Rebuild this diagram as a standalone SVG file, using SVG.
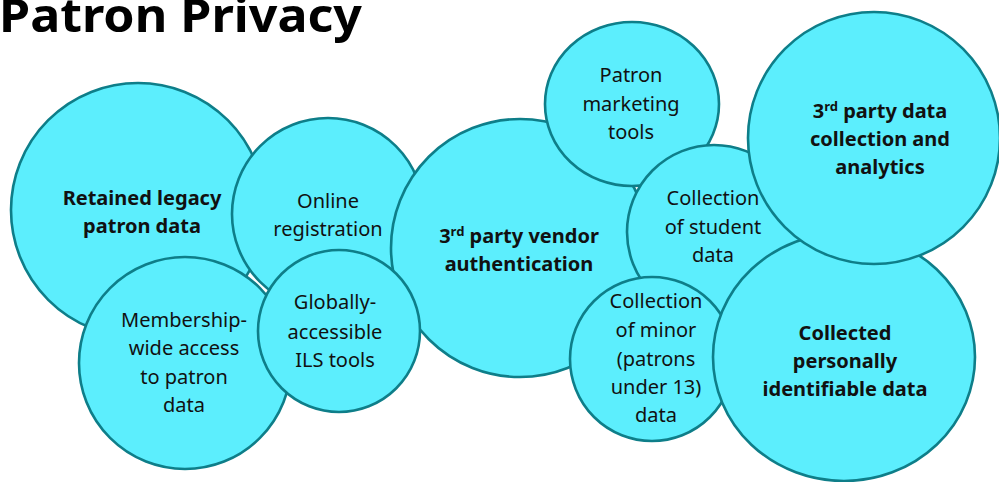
<svg xmlns="http://www.w3.org/2000/svg" width="999" height="482" viewBox="0 0 999 482">
<style>
.c{fill:#5CEEFD;stroke:#0E7E89;stroke-width:2.6}
.t{font-family:"Source Sans Pro","Noto Sans","Liberation Sans",sans-serif;font-size:20px;fill:#111;text-anchor:middle}
.b{font-weight:bold}
.s{font-size:13px}
</style>
<rect width="999" height="482" fill="#fff"/>
<text x="-1" y="32" font-family="Noto Sans, Liberation Sans, sans-serif" font-weight="bold" font-size="46" textLength="363" lengthAdjust="spacingAndGlyphs" fill="#000">Patron Privacy</text>
<g id="connectors"/>
<g id="retained">
<circle class="c" cx="138" cy="210" r="127"/>
<text class="t b" x="142" y="205">Retained legacy</text>
<text class="t b" x="142" y="233">patron data</text>
</g>
<g id="online">
<circle class="c" cx="328" cy="214" r="96"/>
<text class="t" x="328" y="208">Online</text>
<text class="t" x="328" y="236">registration</text>
</g>
<g id="membership">
<circle class="c" cx="185" cy="363" r="106"/>
<text class="t" x="184" y="327">Membership-</text>
<text class="t" x="184" y="355">wide access</text>
<text class="t" x="184" y="384">to patron</text>
<text class="t" x="184" y="412">data</text>
</g>
<g id="vendor">
<circle class="c" cx="520" cy="248" r="129"/>
<text class="t b" x="519" y="243">3<tspan class="s" dy="-7">rd</tspan><tspan dy="7"> party vendor</tspan></text>
<text class="t b" x="519" y="271">authentication</text>
</g>
<g id="globally">
<circle class="c" cx="339" cy="331" r="81"/>
<text class="t" x="335" y="309">Globally-</text>
<text class="t" x="335" y="339">accessible</text>
<text class="t" x="335" y="367">ILS tools</text>
</g>
<g id="marketing">
<ellipse class="c" cx="632" cy="104" rx="87" ry="82"/>
<text class="t" x="631" y="82">Patron</text>
<text class="t" x="631" y="111">marketing</text>
<text class="t" x="631" y="139">tools</text>
</g>
<g id="student">
<circle class="c" cx="714" cy="232" r="87"/>
<text class="t" x="713" y="205">Collection</text>
<text class="t" x="713" y="234">of student</text>
<text class="t" x="713" y="262">data</text>
</g>
<g id="minor">
<circle class="c" cx="652" cy="359" r="82"/>
<text class="t" x="656" y="308">Collection</text>
<text class="t" x="656" y="337">of minor</text>
<text class="t" x="656" y="366">(patrons</text>
<text class="t" x="656" y="394">under 13)</text>
<text class="t" x="656" y="422">data</text>
</g>
<g id="pii">
<ellipse class="c" cx="844" cy="357" rx="131" ry="124"/>
<text class="t b" x="845" y="340">Collected</text>
<text class="t b" x="845" y="368">personally</text>
<text class="t b" x="845" y="396">identifiable data</text>
</g>
<g id="thirdparty">
<circle class="c" cx="874" cy="138" r="126"/>
<text class="t b" x="880" y="118">3<tspan class="s" dy="-7">rd</tspan><tspan dy="7"> party data</tspan></text>
<text class="t b" x="880" y="146">collection and</text>
<text class="t b" x="880" y="174">analytics</text>
</g>
</svg>
